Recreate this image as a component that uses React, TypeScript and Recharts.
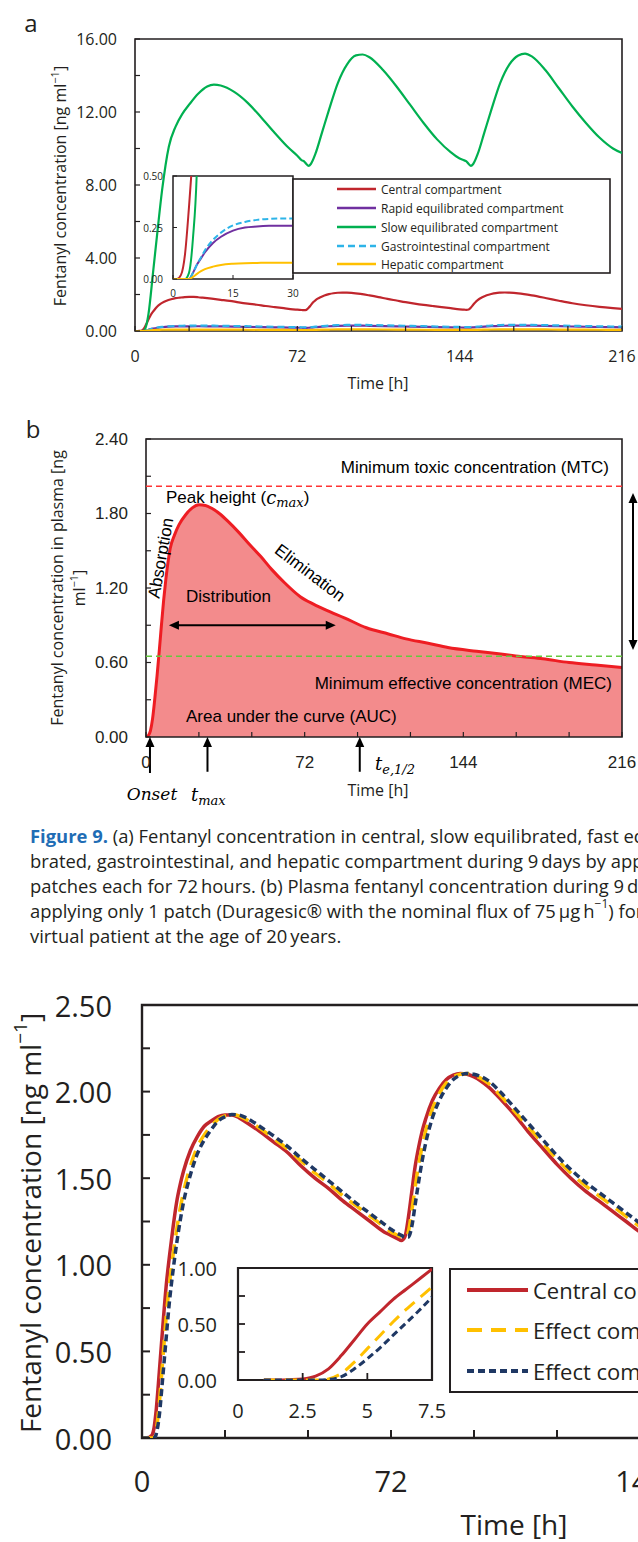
import React from 'react';
import { LineChart, Line, XAxis, YAxis, ReferenceArea, ReferenceLine, AreaChart, Area } from 'recharts';

const OS = "'Open Sans', 'Noto Sans', sans-serif";
const LS = "'Liberation Sans', Arial, sans-serif";
const SERIF = "'DejaVu Serif', 'Liberation Serif', serif";
const INK = '#231F20';

// ---------------- Panel a : compartments, 3 patches ----------------
const timeA = [0, 2, 3, 4, 5, 6, 8, 10, 12, 15, 18, 21, 24, 28, 32, 35, 38, 44, 50, 56, 62, 68, 72, 74, 75, 76, 77, 78, 80, 83, 86, 90, 94, 98, 101, 104, 110, 116, 122, 128, 134, 140, 144, 146, 147, 148, 149, 150, 152, 155, 158, 162, 166, 170, 173, 176, 182, 188, 194, 200, 206, 212, 216];
const slowA = [0, 0, 0, 0.02, 0.3, 0.95, 3.2, 5.5, 7.7, 10.1, 11.2, 11.9, 12.4, 13.0, 13.4, 13.5, 13.45, 13.1, 12.5, 11.7, 10.85, 10.05, 9.6, 9.35, 9.3, 9.15, 9.05, 9.15, 9.7, 10.9, 12.1, 13.6, 14.6, 15.1, 15.15, 15.0, 14.3, 13.4, 12.4, 11.4, 10.5, 9.8, 9.45, 9.35, 9.3, 9.15, 9.05, 9.15, 9.7, 10.9, 12.1, 13.6, 14.6, 15.1, 15.2, 15.05, 14.3, 13.3, 12.3, 11.4, 10.6, 10.0, 9.75];
const rapidA = [0, 0, 0, 0, 0.03, 0.07, 0.13, 0.175, 0.205, 0.235, 0.25, 0.255, 0.258, 0.259, 0.257, 0.253, 0.248, 0.237, 0.226, 0.214, 0.2, 0.188, 0.18, 0.177, 0.176, 0.176, 0.178, 0.185, 0.205, 0.235, 0.26, 0.28, 0.29, 0.292, 0.29, 0.285, 0.27, 0.255, 0.24, 0.226, 0.212, 0.2, 0.192, 0.189, 0.188, 0.188, 0.19, 0.196, 0.21, 0.24, 0.263, 0.282, 0.292, 0.295, 0.294, 0.29, 0.277, 0.262, 0.247, 0.232, 0.22, 0.21, 0.204];
const gastroA = [0, 0, 0, 0, 0.03, 0.07, 0.14, 0.19, 0.225, 0.26, 0.277, 0.287, 0.292, 0.295, 0.294, 0.291, 0.286, 0.274, 0.261, 0.247, 0.232, 0.218, 0.209, 0.205, 0.204, 0.203, 0.205, 0.212, 0.235, 0.268, 0.297, 0.32, 0.332, 0.335, 0.333, 0.328, 0.312, 0.295, 0.278, 0.262, 0.246, 0.232, 0.223, 0.219, 0.218, 0.218, 0.22, 0.227, 0.243, 0.275, 0.302, 0.324, 0.336, 0.34, 0.339, 0.334, 0.32, 0.303, 0.286, 0.27, 0.256, 0.244, 0.237];
const hepaticA = [0, 0, 0, 0, 0.01, 0.025, 0.048, 0.06, 0.068, 0.074, 0.077, 0.078, 0.079, 0.079, 0.078, 0.077, 0.076, 0.072, 0.069, 0.065, 0.061, 0.057, 0.055, 0.054, 0.054, 0.054, 0.055, 0.058, 0.064, 0.073, 0.08, 0.086, 0.089, 0.09, 0.089, 0.088, 0.083, 0.078, 0.074, 0.069, 0.065, 0.061, 0.059, 0.058, 0.058, 0.058, 0.059, 0.061, 0.066, 0.075, 0.082, 0.087, 0.09, 0.091, 0.091, 0.09, 0.085, 0.08, 0.076, 0.071, 0.068, 0.065, 0.063];

// inset of panel a (0-30 h)
const timeInsetA = [0, 1, 2, 3, 4, 5, 6, 7, 8, 10, 12, 15, 18, 21, 24, 27, 30];
const centralInsetA = [0, 0, 0.02, 0.12, 0.35, 0.62, 0.85, 1.0, 1.1, 1.3, 1.45, 1.6, 1.7, 1.78, 1.82, 1.84, 1.85];
const slowInsetA = [0, 0, 0, 0, 0.03, 0.2, 0.55, 1.5, 3.2, 5.5, 7.7, 10.1, 11.2, 11.9, 12.4, 12.8, 13.1];
const rapidInsetA = [0, 0, 0, 0, 0, 0.03, 0.07, 0.1, 0.13, 0.175, 0.205, 0.235, 0.25, 0.255, 0.258, 0.259, 0.258];
const gastroInsetA = [0, 0, 0, 0, 0, 0.03, 0.07, 0.105, 0.14, 0.19, 0.225, 0.26, 0.277, 0.287, 0.292, 0.294, 0.294];
const hepaticInsetA = [0, 0, 0, 0, 0, 0.01, 0.025, 0.038, 0.048, 0.06, 0.068, 0.074, 0.077, 0.078, 0.079, 0.079, 0.079];

// ---------------- Panel b : single patch plasma ----------------
const timeB = [0, 0.5, 1, 2, 3, 4, 5, 6, 7, 8, 9, 10, 11, 13, 15, 18, 21, 24, 27, 30, 34, 37, 42, 47, 52, 57, 63, 70, 76, 82, 90, 100, 110, 118, 128, 137, 150, 160, 170, 180, 192, 204, 216];
const plasmaB = [0, 0, 0.01, 0.05, 0.15, 0.31, 0.49, 0.69, 0.9, 1.1, 1.27, 1.41, 1.52, 1.63, 1.71, 1.79, 1.845, 1.87, 1.865, 1.84, 1.79, 1.74, 1.65, 1.55, 1.455, 1.35, 1.24, 1.13, 1.07, 1.02, 0.96, 0.88, 0.83, 0.79, 0.755, 0.72, 0.69, 0.67, 0.648, 0.63, 0.6, 0.58, 0.56];
const MTC = 2.02;
const MEC = 0.65;
const onsetT = 1.8;
const tmaxT = 27.9;
const thalfT = 97;

// ---------------- Panel c : central vs effect compartments ----------------
const timeC = [0, 1, 2, 2.5, 3, 3.5, 4, 5, 6, 7, 8, 9, 10, 11, 12, 14, 16, 18, 20, 22, 24, 26, 28, 30, 34, 38, 42, 46, 50, 54, 58, 62, 66, 70, 72, 74, 75, 76, 77, 78, 79, 80, 81, 82, 84, 86, 88, 90, 92, 94, 96, 100, 104, 108, 112, 116, 120, 124, 128, 132, 136, 140, 144, 146, 147, 148, 149, 150, 151, 152, 153, 154, 156, 158, 160, 162, 164, 166, 170, 176, 182, 188, 194, 200, 206, 212, 216];
const centralC = [0, 0, 0.003, 0.01, 0.02, 0.06, 0.14, 0.38, 0.64, 0.88, 1.06, 1.22, 1.36, 1.46, 1.54, 1.66, 1.74, 1.8, 1.83, 1.855, 1.865, 1.865, 1.85, 1.825, 1.77, 1.71, 1.65, 1.57, 1.5, 1.44, 1.37, 1.31, 1.25, 1.19, 1.17, 1.15, 1.14, 1.16, 1.27, 1.42, 1.57, 1.68, 1.77, 1.84, 1.95, 2.02, 2.07, 2.095, 2.105, 2.1, 2.085, 2.03, 1.95, 1.86, 1.76, 1.67, 1.58, 1.5, 1.43, 1.37, 1.31, 1.25, 1.19, 1.17, 1.16, 1.18, 1.29, 1.44, 1.58, 1.69, 1.78, 1.85, 1.96, 2.03, 2.08, 2.1, 2.11, 2.1, 2.06, 1.95, 1.81, 1.66, 1.52, 1.41, 1.32, 1.25, 1.21];
const effect1C = [0, 0, 0, 0, 0, 0, 0.03, 0.2, 0.45, 0.7, 0.9, 1.06, 1.2, 1.32, 1.42, 1.57, 1.68, 1.75, 1.8, 1.84, 1.86, 1.868, 1.86, 1.84, 1.79, 1.73, 1.67, 1.6, 1.53, 1.47, 1.4, 1.34, 1.28, 1.22, 1.19, 1.17, 1.16, 1.155, 1.19, 1.31, 1.45, 1.58, 1.68, 1.77, 1.9, 1.99, 2.05, 2.085, 2.1, 2.105, 2.095, 2.05, 1.97, 1.88, 1.79, 1.7, 1.61, 1.53, 1.46, 1.4, 1.34, 1.28, 1.22, 1.19, 1.18, 1.17, 1.21, 1.33, 1.47, 1.6, 1.7, 1.79, 1.92, 2.0, 2.06, 2.09, 2.11, 2.11, 2.08, 1.97, 1.83, 1.68, 1.54, 1.43, 1.34, 1.27, 1.23];
const effect2C = [0, 0, 0, 0, 0, 0, 0.015, 0.13, 0.35, 0.58, 0.8, 0.97, 1.12, 1.25, 1.36, 1.52, 1.64, 1.72, 1.78, 1.83, 1.855, 1.868, 1.865, 1.85, 1.8, 1.745, 1.685, 1.615, 1.55, 1.485, 1.42, 1.355, 1.295, 1.235, 1.205, 1.18, 1.17, 1.16, 1.16, 1.22, 1.35, 1.48, 1.6, 1.7, 1.85, 1.95, 2.02, 2.07, 2.095, 2.105, 2.1, 2.065, 1.99, 1.9, 1.81, 1.72, 1.63, 1.55, 1.48, 1.42, 1.36, 1.3, 1.24, 1.21, 1.19, 1.18, 1.18, 1.26, 1.39, 1.52, 1.63, 1.73, 1.87, 1.97, 2.04, 2.08, 2.1, 2.11, 2.09, 1.99, 1.85, 1.7, 1.56, 1.45, 1.36, 1.28, 1.24];

// inset of panel c (1-7.5 h)
const timeInsetC = [1, 1.5, 2, 2.5, 3, 3.5, 4, 4.5, 5, 5.5, 6, 6.5, 7, 7.5];
const centralInsetC = [0, 0, 0.003, 0.01, 0.035, 0.1, 0.22, 0.36, 0.5, 0.61, 0.72, 0.81, 0.9, 0.99];
const effect1InsetC = [0, 0, 0, 0, 0, 0.01, 0.06, 0.16, 0.28, 0.4, 0.52, 0.63, 0.73, 0.83];
const effect2InsetC = [0, 0, 0, 0, 0, 0.005, 0.03, 0.1, 0.19, 0.29, 0.4, 0.51, 0.62, 0.74];

// ---------------- ticks and labels ----------------
const xTicks216 = [0, 24, 48, 72, 96, 120, 144, 168, 192, 216];
const yTicksA = [0, 2, 4, 6, 8, 10, 12, 14, 16];
const yTicksB = [0, 0.3, 0.6, 0.9, 1.2, 1.5, 1.8, 2.1, 2.4];
const yTicksC = [0, 0.25, 0.5, 0.75, 1, 1.25, 1.5, 1.75, 2, 2.25, 2.5];
const xTicksInsetA = [0, 15, 30];
const yTicksInsetA = [0, 0.25, 0.5];
const xTicksInsetC = [0, 2.5, 5, 7.5];
const yTicksInsetC = [0, 0.25, 0.5, 0.75, 1];

const legendA = ['Central compartment', 'Rapid equilibrated compartment', 'Slow equilibrated compartment', 'Gastrointestinal compartment', 'Hepatic compartment'];
const legendC = ['Central compartment', 'Effect compartment 1', 'Effect compartment 2'];

const COL = {
  central: '#C0262D',
  rapid: '#7030A0',
  slow: '#00B050',
  gastro: '#2DB4E8',
  hepatic: '#FFC000',
  navy: '#1F3864',
  yellow: '#FFC000',
  bLine: '#EE1D23',
  bFill: '#F38B8C',
};

const pts = (ts: number[], vs: number[]) => ts.map((t, i) => ({ t, v: vs[i] }));

type TickCfg = { len: number; gap: number; size: number; font: string; sw: number; fmt: (v: number) => string | null };

const xTick = (c: TickCfg) => (p: any) => {
  const { x, y, payload } = p;
  const s = c.fmt(payload.value);
  return (
    <g>
      <line x1={x} x2={x} y1={y} y2={y - c.len} stroke={INK} strokeWidth={c.sw} />
      {s !== null && (
        <text x={x} y={y + c.gap} textAnchor="middle" dominantBaseline="central" fontFamily={c.font} fontSize={c.size} fill={INK}>
          {s}
        </text>
      )}
    </g>
  );
};
const yTick = (c: TickCfg) => (p: any) => {
  const { x, y, payload } = p;
  const s = c.fmt(payload.value);
  return (
    <g>
      <line x1={x} x2={x + c.len} y1={y} y2={y} stroke={INK} strokeWidth={c.sw} />
      {s !== null && (
        <text x={x - c.gap} y={y} textAnchor="end" dominantBaseline="central" fontFamily={c.font} fontSize={c.size} fill={INK}>
          {s}
        </text>
      )}
    </g>
  );
};
const every = (step: number, digits: number) => (v: number) =>
  Math.abs(v / step - Math.round(v / step)) < 1e-6 ? v.toFixed(digits) : null;
const plain = (v: number) => String(v);

const arrow = (both: boolean) => (p: any) => {
  const { x1, y1, x2, y2 } = p;
  const dx = x2 - x1, dy = y2 - y1;
  const L = Math.hypot(dx, dy) || 1;
  const ux = dx / L, uy = dy / L;
  const h = 10, w = 4.5;
  const head = (tx: number, ty: number, ddx: number, ddy: number) => {
    const bx = tx - ddx * h, by = ty - ddy * h;
    return `${tx},${ty} ${bx - ddy * w},${by + ddx * w} ${bx + ddy * w},${by - ddx * w}`;
  };
  const sx = x1 + ux * (h - 1), sy = y1 + uy * (h - 1);
  const ex = both ? x2 - ux * (h - 1) : x2, ey = both ? y2 - uy * (h - 1) : y2;
  return (
    <g>
      <line x1={sx} y1={sy} x2={ex} y2={ey} stroke="#000" strokeWidth={2} />
      <polygon points={head(x1, y1, -ux, -uy)} fill="#000" />
      {both && <polygon points={head(x2, y2, ux, uy)} fill="#000" />}
    </g>
  );
};

const axisCommon = { tickLine: false, axisLine: false, tickSize: 0, tickMargin: 0, interval: 0 as const, allowDataOverflow: true };

export default function App() {
  const aTickX = xTick({ len: 5, gap: 25, size: 16, font: OS, sw: 1.2, fmt: every(72, 0) });
  const aTickY = yTick({ len: 5, gap: 18, size: 16, font: OS, sw: 1.2, fmt: every(4, 2) });
  const aiTickX = xTick({ len: 4, gap: 14, size: 10, font: OS, sw: 1, fmt: plain });
  const aiTickY = yTick({ len: 4, gap: 10, size: 10, font: OS, sw: 1, fmt: (v) => v.toFixed(2) });
  const bTickX = xTick({ len: 5, gap: 25, size: 17, font: LS, sw: 1.2, fmt: every(72, 0) });
  const bTickY = yTick({ len: 5, gap: 18, size: 17, font: LS, sw: 1.2, fmt: every(0.6, 2) });
  const cTickX = xTick({ len: 8, gap: 42, size: 29, font: OS, sw: 2, fmt: every(72, 0) });
  const cTickY = yTick({ len: 8, gap: 30, size: 29, font: OS, sw: 2, fmt: every(0.5, 2) });
  const ciTickX = xTick({ len: 7, gap: 30, size: 20, font: OS, sw: 1.8, fmt: plain });
  const ciTickY = yTick({ len: 7, gap: 21, size: 20, font: OS, sw: 1.8, fmt: every(0.5, 2) });

  const bData = pts(timeB, plasmaB);

  const legA = [
    { c: COL.central, d: undefined },
    { c: COL.rapid, d: undefined },
    { c: COL.slow, d: undefined },
    { c: COL.gastro, d: '7 4' },
    { c: COL.hepatic, d: undefined },
  ];
  const legAy = [189, 208, 227, 246, 264];
  const legC = [
    { c: COL.central, d: undefined, w: 4 },
    { c: COL.yellow, d: '15 9', w: 4 },
    { c: COL.navy, d: '7 4', w: 4 },
  ];
  const legCy = [1290, 1330, 1371];

  return (
    <div style={{ position: 'absolute', left: 0, top: 0, width: 638, height: 1542, overflow: 'hidden', background: '#fff' }}>
      {/* ---------- Panel a ---------- */}
      <div style={{ position: 'absolute', left: 0, top: 0 }}>
        <LineChart width={638} height={400} margin={{ top: 39, right: 16, bottom: 68, left: 134 }}>
          <XAxis type="number" dataKey="t" domain={[0, 216]} ticks={xTicks216} tick={aTickX} height={1} {...axisCommon} />
          <YAxis type="number" domain={[0, 16]} ticks={yTicksA} tick={aTickY} width={1} {...axisCommon} />
          <ReferenceArea x1={0} x2={216} y1={0} y2={16} fill="none" stroke={INK} strokeWidth={1.6} ifOverflow="visible" />
          <Line data={pts(timeC, centralC)} dataKey="v" type="monotone" stroke={COL.central} strokeWidth={2.2} dot={false} isAnimationActive={false} />
          <Line data={pts(timeA, rapidA)} dataKey="v" type="monotone" stroke={COL.rapid} strokeWidth={2.2} dot={false} isAnimationActive={false} />
          <Line data={pts(timeA, slowA)} dataKey="v" type="monotone" stroke={COL.slow} strokeWidth={2.2} dot={false} isAnimationActive={false} />
          <Line data={pts(timeA, gastroA)} dataKey="v" type="monotone" stroke={COL.gastro} strokeWidth={2.2} strokeDasharray="7 4" dot={false} isAnimationActive={false} />
          <Line data={pts(timeA, hepaticA)} dataKey="v" type="monotone" stroke={COL.hepatic} strokeWidth={2.2} dot={false} isAnimationActive={false} />
        </LineChart>
      </div>
      <div style={{ position: 'absolute', left: 173, top: 176, width: 120, height: 103, background: '#fff' }} />
      <div style={{ position: 'absolute', left: 120, top: 166 }}>
        <LineChart width={183} height={140} margin={{ top: 10, right: 10, bottom: 26, left: 52 }}>
          <XAxis type="number" dataKey="t" domain={[0, 30]} ticks={xTicksInsetA} tick={aiTickX} height={1} {...axisCommon} />
          <YAxis type="number" domain={[0, 0.5]} ticks={yTicksInsetA} tick={aiTickY} width={1} {...axisCommon} />
          <ReferenceArea x1={0} x2={30} y1={0} y2={0.5} fill="none" stroke={INK} strokeWidth={1.5} ifOverflow="visible" />
          <Line data={pts(timeInsetA, centralInsetA)} dataKey="v" type="monotone" stroke={COL.central} strokeWidth={2} dot={false} isAnimationActive={false} />
          <Line data={pts(timeInsetA, rapidInsetA)} dataKey="v" type="monotone" stroke={COL.rapid} strokeWidth={2} dot={false} isAnimationActive={false} />
          <Line data={pts(timeInsetA, slowInsetA)} dataKey="v" type="monotone" stroke={COL.slow} strokeWidth={2} dot={false} isAnimationActive={false} />
          <Line data={pts(timeInsetA, gastroInsetA)} dataKey="v" type="monotone" stroke={COL.gastro} strokeWidth={2} strokeDasharray="6 3" dot={false} isAnimationActive={false} />
          <Line data={pts(timeInsetA, hepaticInsetA)} dataKey="v" type="monotone" stroke={COL.hepatic} strokeWidth={2} dot={false} isAnimationActive={false} />
        </LineChart>
      </div>

      {/* ---------- Panel b ---------- */}
      <div style={{ position: 'absolute', left: 0, top: 400 }}>
        <AreaChart width={638} height={400} data={bData} margin={{ top: 39, right: 16, bottom: 62, left: 145 }}>
          <XAxis type="number" dataKey="t" domain={[0, 216]} ticks={xTicks216} tick={bTickX} height={1} {...axisCommon} />
          <YAxis type="number" domain={[0, 2.4]} ticks={yTicksB} tick={bTickY} width={1} {...axisCommon} />
          <Area dataKey="v" type="monotone" stroke={COL.bLine} strokeWidth={3} fill={COL.bFill} fillOpacity={1} baseValue={0} dot={false} isAnimationActive={false} />
          <ReferenceArea x1={0} x2={216} y1={0} y2={2.4} fill="none" stroke={INK} strokeWidth={1.6} ifOverflow="visible" />
          <ReferenceLine y={MTC} stroke="#FF3434" strokeWidth={1.5} strokeDasharray="6 4" />
          <ReferenceLine y={MEC} stroke="#66C93F" strokeWidth={1.5} strokeDasharray="6 4" />
          <ReferenceLine segment={[{ x: onsetT, y: 0 }, { x: onsetT, y: -0.29 }]} ifOverflow="visible" shape={arrow(false)} />
          <ReferenceLine segment={[{ x: tmaxT, y: 0 }, { x: tmaxT, y: -0.28 }]} ifOverflow="visible" shape={arrow(false)} />
          <ReferenceLine segment={[{ x: thalfT, y: 0 }, { x: thalfT, y: -0.28 }]} ifOverflow="visible" shape={arrow(false)} />
          <ReferenceLine segment={[{ x: 10.4, y: 0.9 }, { x: 86.1, y: 0.9 }]} ifOverflow="visible" shape={arrow(true)} />
          <ReferenceLine segment={[{ x: 221, y: 1.965 }, { x: 221, y: 0.7 }]} ifOverflow="visible" shape={arrow(true)} />
        </AreaChart>
      </div>

      {/* ---------- Panel c ---------- */}
      <div style={{ position: 'absolute', left: 0, top: 960 }}>
        <LineChart width={910} height={582} margin={{ top: 45, right: 21, bottom: 103, left: 141 }}>
          <XAxis type="number" dataKey="t" domain={[0, 216]} ticks={xTicks216} tick={cTickX} height={1} {...axisCommon} />
          <YAxis type="number" domain={[0, 2.5]} ticks={yTicksC} tick={cTickY} width={1} {...axisCommon} />
          <ReferenceArea x1={0} x2={216} y1={0} y2={2.5} fill="none" stroke={INK} strokeWidth={2.4} ifOverflow="visible" />
          <Line data={pts(timeC, centralC)} dataKey="v" type="monotone" stroke={COL.central} strokeWidth={3.5} dot={false} isAnimationActive={false} />
          <Line data={pts(timeC, effect1C)} dataKey="v" type="monotone" stroke={COL.yellow} strokeWidth={3.5} strokeDasharray="15 9" dot={false} isAnimationActive={false} />
          <Line data={pts(timeC, effect2C)} dataKey="v" type="monotone" stroke={COL.navy} strokeWidth={3.5} strokeDasharray="7 4" dot={false} isAnimationActive={false} />
        </LineChart>
      </div>
      <div style={{ position: 'absolute', left: 150, top: 1250 }}>
        <LineChart width={300} height={180} margin={{ top: 18, right: 18, bottom: 49, left: 87 }}>
          <XAxis type="number" dataKey="t" domain={[0, 7.5]} ticks={xTicksInsetC} tick={ciTickX} height={1} {...axisCommon} />
          <YAxis type="number" domain={[0, 1]} ticks={yTicksInsetC} tick={ciTickY} width={1} {...axisCommon} />
          <ReferenceArea x1={0} x2={7.5} y1={0} y2={1} fill="none" stroke={INK} strokeWidth={2.2} ifOverflow="visible" />
          <Line data={pts(timeInsetC, centralInsetC)} dataKey="v" type="monotone" stroke={COL.central} strokeWidth={3} dot={false} isAnimationActive={false} />
          <Line data={pts(timeInsetC, effect1InsetC)} dataKey="v" type="monotone" stroke={COL.yellow} strokeWidth={3} strokeDasharray="13 8" dot={false} isAnimationActive={false} />
          <Line data={pts(timeInsetC, effect2InsetC)} dataKey="v" type="monotone" stroke={COL.navy} strokeWidth={3} strokeDasharray="7 4" dot={false} isAnimationActive={false} />
        </LineChart>
      </div>

      {/* ---------- text overlay ---------- */}
      <svg width={638} height={1542} style={{ position: 'absolute', left: 0, top: 0, pointerEvents: 'none' }}>
        {/* panel a */}
        <text x={31} y={22} fontFamily={OS} fontSize={24} textAnchor="middle" dominantBaseline="central" fill={INK}>a</text>
        <text transform="translate(60,186) rotate(-90)" fontFamily={OS} fontSize={16} textAnchor="middle" dominantBaseline="central" fill={INK}>
          Fentanyl concentration [ng ml<tspan fontSize={11} dy={-6}>−1</tspan><tspan dy={6}>]</tspan>
        </text>
        <text x={378} y={383} fontFamily={OS} fontSize={16} textAnchor="middle" dominantBaseline="central" fill={INK}>Time [h]</text>
        <rect x={293} y={179} width={317} height={94} fill="#fff" stroke={INK} strokeWidth={1.6} />
        {legendA.map((s, i) => (
          <g key={s}>
            <line x1={337} x2={376} y1={legAy[i]} y2={legAy[i]} stroke={legA[i].c} strokeWidth={2.6} strokeDasharray={legA[i].d} />
            <text x={381} y={legAy[i]} fontFamily={OS} fontSize={12} dominantBaseline="central" fill={INK}>{s}</text>
          </g>
        ))}

        {/* panel b */}
        <text x={33} y={428} fontFamily={OS} fontSize={24} textAnchor="middle" dominantBaseline="central" fill={INK}>b</text>
        <text transform="translate(57,588) rotate(-90)" fontFamily={OS} fontSize={16} textAnchor="middle" dominantBaseline="central" fill={INK}>
          Fentanyl concentration in plasma [ng
        </text>
        <text transform="translate(79,588) rotate(-90)" fontFamily={OS} fontSize={16} textAnchor="middle" dominantBaseline="central" fill={INK}>
          ml<tspan fontSize={11} dy={-6}>−1</tspan><tspan dy={6}>]</tspan>
        </text>
        <text x={378} y={790} fontFamily={OS} fontSize={16} textAnchor="middle" dominantBaseline="central" fill={INK}>Time [h]</text>
        <text x={152} y={794} fontFamily={SERIF} fontStyle="italic" fontSize={17} textAnchor="middle" dominantBaseline="central" fill="#000">Onset</text>
        <text x={191} y={794} fontFamily={SERIF} fontStyle="italic" fontSize={18} dominantBaseline="central" fill="#000">
          t<tspan fontSize={13} dy={6}>max</tspan>
        </text>
        <text x={375} y={763} fontFamily={SERIF} fontStyle="italic" fontSize={18} dominantBaseline="central" fill="#000">
          t<tspan fontSize={13} dy={6}>e,1/2</tspan>
        </text>
        <text x={609} y={467} fontFamily={LS} fontSize={17} textAnchor="end" dominantBaseline="central" fill="#000">Minimum toxic concentration (MTC)</text>
        <text x={166} y={497} fontFamily={LS} fontSize={17} dominantBaseline="central" fill="#000">
          Peak height (<tspan fontFamily={SERIF} fontStyle="italic" fontSize={18}>c</tspan>
          <tspan fontFamily={SERIF} fontStyle="italic" fontSize={13} dy={5}>max</tspan>
          <tspan dy={-5}>)</tspan>
        </text>
        <text transform="translate(161,558) rotate(-80)" fontFamily={LS} fontSize={17} textAnchor="middle" dominantBaseline="central" fill="#000">Absorption</text>
        <text transform="translate(310,573) rotate(37)" fontFamily={LS} fontSize={17} textAnchor="middle" dominantBaseline="central" fill="#000">Elimination</text>
        <text x={186} y={596} fontFamily={LS} fontSize={17} dominantBaseline="central" fill="#000">Distribution</text>
        <text x={612} y={683} fontFamily={LS} fontSize={17} textAnchor="end" dominantBaseline="central" fill="#000">Minimum effective concentration (MEC)</text>
        <text x={186} y={716} fontFamily={LS} fontSize={17} dominantBaseline="central" fill="#000">Area under the curve (AUC)</text>

        {/* caption */}
        <g fontFamily={OS} fontSize={18.4} fill={INK}>
          <text x={30} y={835} dominantBaseline="central">
            <tspan fontWeight={700} fill="#1F6DB5">Figure 9.</tspan> (a) Fentanyl concentration in central, slow equilibrated, fast equili-
          </text>
          <text x={30} y={860} dominantBaseline="central">brated, gastrointestinal, and hepatic compartment during 9{'\u2009'}days by applying 3</text>
          <text x={30} y={885} dominantBaseline="central">patches each for 72{'\u2009'}hours. (b) Plasma fentanyl concentration during 9{'\u2009'}days by</text>
          <text x={30} y={910} dominantBaseline="central">
            applying only 1 patch (Duragesic® with the nominal flux of 75{'\u2009'}μg{'\u2009'}h<tspan fontSize={12} dy={-7}>−1</tspan><tspan dy={7}>) for a</tspan>
          </text>
          <text x={30} y={935} dominantBaseline="central">virtual patient at the age of 20{'\u2009'}years.</text>
        </g>

        {/* panel c */}
        <text transform="translate(30,1223) rotate(-90)" fontFamily={OS} fontSize={28} textAnchor="middle" dominantBaseline="central" fill={INK}>
          Fentanyl concentration [ng ml<tspan fontSize={19} dy={-10}>−1</tspan><tspan dy={10}>]</tspan>
        </text>
        <text x={514} y={1524} fontFamily={OS} fontSize={28} textAnchor="middle" dominantBaseline="central" fill={INK}>Time [h]</text>
        <rect x={450} y={1269} width={300} height={123} fill="#fff" stroke={INK} strokeWidth={2} />
        {legendC.map((s, i) => (
          <g key={s}>
            <line x1={467} x2={528} y1={legCy[i]} y2={legCy[i]} stroke={legC[i].c} strokeWidth={legC[i].w} strokeDasharray={legC[i].d} />
            <text x={533} y={legCy[i]} fontFamily={OS} fontSize={22} dominantBaseline="central" fill={INK}>{s}</text>
          </g>
        ))}
      </svg>
    </div>
  );
}
